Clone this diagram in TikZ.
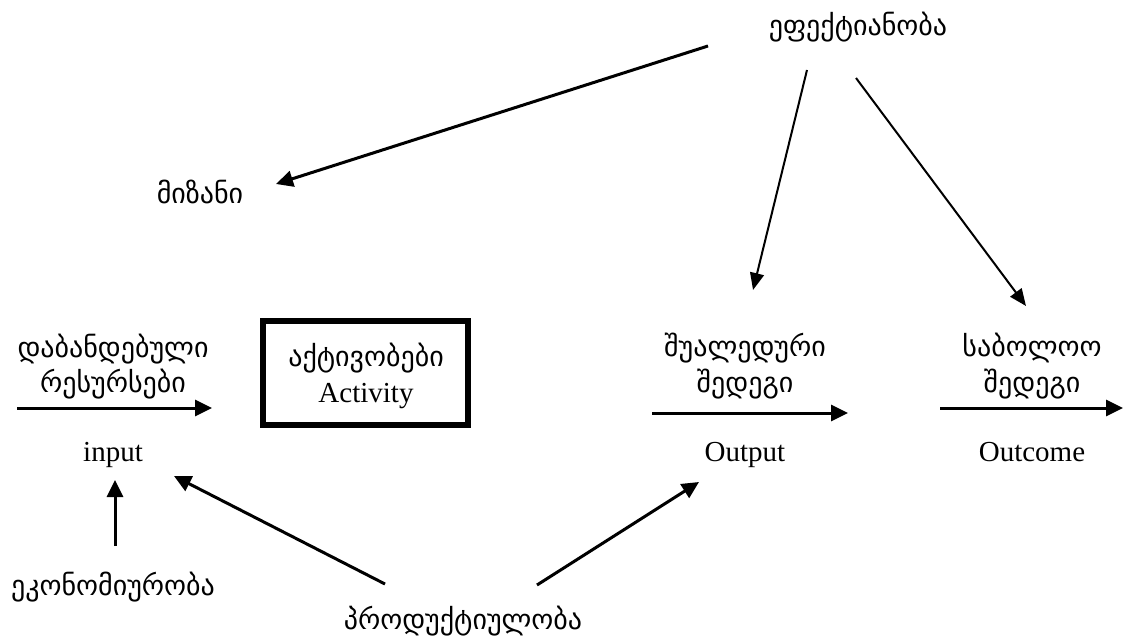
\documentclass[tikz,border=0pt]{standalone}
\usepackage{fontspec}
\setmainfont{Liberation Serif}
\newfontfamily\geo{DejaVu Sans}
\usetikzlibrary{arrows.meta}
\begin{document}
\begin{tikzpicture}[x=1pt,y=-1pt,
  geo/.style={font=\geo\fontsize{28}{32}\selectfont, inner sep=0pt, anchor=center},
  en/.style={font=\fontsize{29}{33}\selectfont, inner sep=0pt, anchor=base},
  arr/.style={line width=3pt, -{Triangle[length=17pt,width=16pt]}},
  thinarr/.style={line width=2pt, -{Triangle[length=17pt,width=14pt]}},
  actbox/.style={draw, line width=6pt, minimum width=205pt, minimum height=104pt, inner sep=0pt},
]
\useasboundingbox (0,0) rectangle (1123,637);
\fill[white] (0,0) rectangle (1123,637);

% texts
\node[geo] (eff) at (858,27) {ეფექტიანობა};
\node[geo] (goal) at (200,192) {მიზანი};
\node[geo] (in1) at (113,349) {დაბანდებული};
\node[geo] (in2) at (113,384) {რესურსები};
\node[en]  (input) at (113,461) {input};
\node[actbox] (act) at (365,373) {};
\node[geo] (act1) at (366,358) {აქტივობები};
\node[en]  (act2) at (366,402) {Activity};
\node[geo] (out1) at (745,348) {შუალედური};
\node[geo] (out2) at (745,384) {შედეგი};
\node[en]  (output) at (745,461) {Output};
\node[geo] (oc1) at (1032,348) {საბოლოო};
\node[geo] (oc2) at (1032,384) {შედეგი};
\node[en]  (outcome) at (1032,461) {Outcome};
\node[geo] (econ) at (113,587) {ეკონომიურობა};
\node[geo] (prod) at (463,621) {პროდუქტიულობა};

% connector ends
\coordinate (inS) at (17,408);   \coordinate (inE) at (212,408);
\coordinate (outS) at (652,413); \coordinate (outE) at (848,413);
\coordinate (ocS) at (940,408);  \coordinate (ocE) at (1123,408);
\coordinate (effA) at (708,46);  \coordinate (goalT) at (276,184);
\coordinate (effB) at (807,70);  \coordinate (outT) at (753,290);
\coordinate (effC) at (856,78);  \coordinate (ocT) at (1026,306);
\coordinate (econS) at (115,546); \coordinate (inT) at (115,480);
\coordinate (prodA) at (385,584); \coordinate (inT2) at (174,476);
\coordinate (prodB) at (537,585); \coordinate (outT2) at (699,482);

\draw[arr] (inS) -- (inE);
\draw[arr] (outS) -- (outE);
\draw[arr] (ocS) -- (ocE);
\draw[arr] (effA) -- (goalT);
\draw[thinarr] (effB) -- (outT);
\draw[thinarr] (effC) -- (ocT);
\draw[arr] (econS) -- (inT);
\draw[arr] (prodA) -- (inT2);
\draw[arr] (prodB) -- (outT2);
\end{tikzpicture}
\end{document}
